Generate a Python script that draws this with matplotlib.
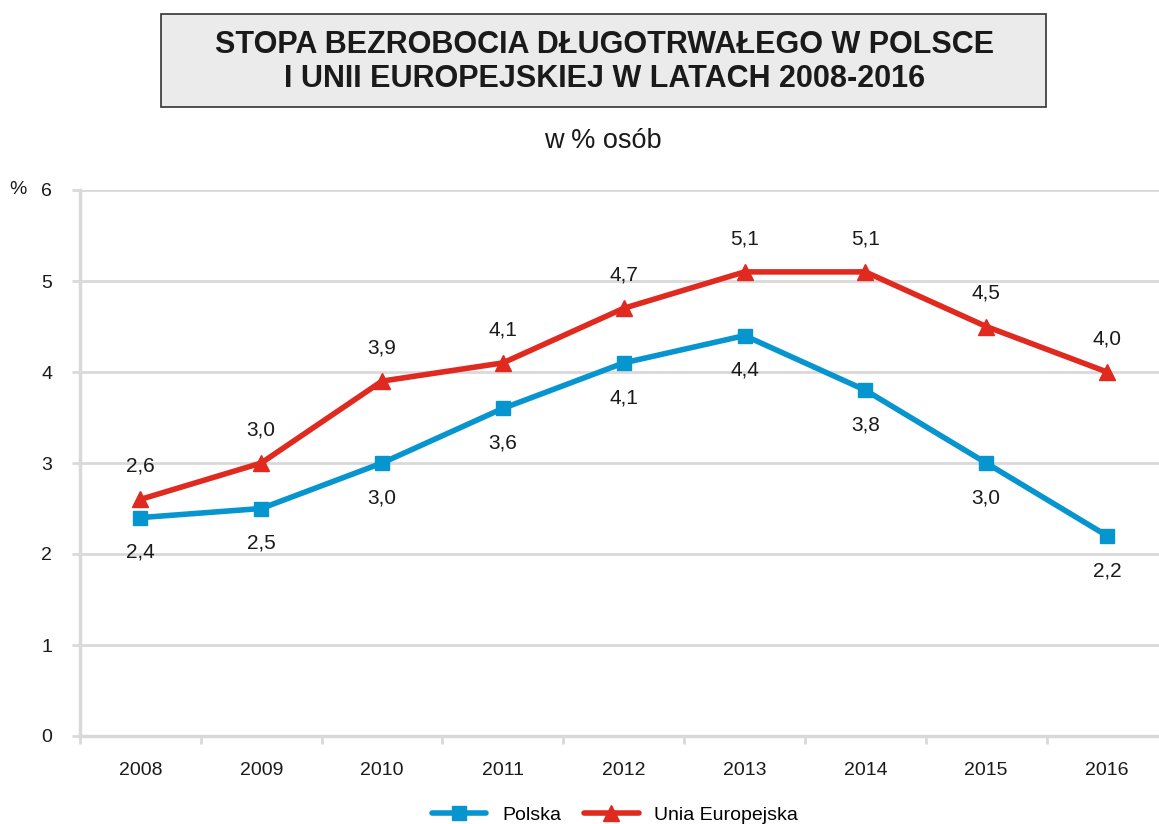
#!/usr/bin/env python

import matplotlib
matplotlib.use('Agg')
from matplotlib import pyplot as plt
from matplotlib.patches import Rectangle

years = ['2008', '2009', '2010', '2011', '2012', '2013', '2014', '2015', '2016']
polska = [2.4, 2.5, 3.0, 3.6, 4.1, 4.4, 3.8, 3.0, 2.2]
unia = [2.6, 3.0, 3.9, 4.1, 4.7, 5.1, 5.1, 4.5, 4.0]
y_ticks = [0, 1, 2, 3, 4, 5, 6]

BLUE = '#0795cf'
RED = '#e0291f'
GRID = '#d9d9d9'
TXT = '#1a1a1a'


def fmt(v):
    return ('%.1f' % v).replace('.', ',')


def main():
    plt.rcParams['font.family'] = ['Liberation Sans', 'DejaVu Sans']
    fig = plt.figure(figsize=(11.59, 8.24), dpi=100)
    ax = fig.add_axes([80 / 1159, 1 - 736 / 824, 1 - 80 / 1159, (736 - 190) / 824])

    x = list(range(len(years)))
    ax.plot(x, polska, '-s', color=BLUE, lw=4, ms=10.5, label='Polska',
            solid_capstyle='round', zorder=3)
    ax.plot(x, unia, '-^', color=RED, lw=4, ms=11.5, label='Unia Europejska',
            solid_capstyle='round', zorder=3)

    for xi, v in zip(x, polska):
        ax.annotate(fmt(v), (xi, v), xytext=(0, -25), textcoords='offset points',
                    ha='center', va='center', fontsize=15, color=TXT)
    for xi, v in zip(x, unia):
        ax.annotate(fmt(v), (xi, v), xytext=(0, 24), textcoords='offset points',
                    ha='center', va='center', fontsize=15, color=TXT)

    ax.set_ylim(0, 6)
    ax.set_xlim(-0.5, 8.43)
    ax.set_yticks(y_ticks)
    ax.set_yticklabels([str(t) for t in y_ticks], fontsize=14, color=TXT)
    ax.set_xticks([i - 0.5 for i in range(len(years))])
    ax.set_xticklabels([])
    ax.set_xticks(x, minor=True)
    ax.set_xticklabels(years, minor=True, fontsize=14, color=TXT)
    ax.tick_params(axis='x', which='minor', length=0, pad=19)
    ax.tick_params(axis='x', which='major', length=6, width=2, color=GRID, direction='out')
    ax.tick_params(axis='y', length=6, width=2, color=GRID, pad=14)
    ax.grid(axis='y', color=GRID, lw=2)
    ax.set_axisbelow(True)
    for s in ['top', 'right']:
        ax.spines[s].set_visible(False)
    for s in ['left', 'bottom']:
        ax.spines[s].set_color(GRID)
        ax.spines[s].set_linewidth(2.5)

    fig.text(18 / 1159, 1 - 189 / 824, '%', fontsize=14, ha='center', va='center', color=TXT)

    # title box
    fig.patches.append(Rectangle((161 / 1159, 1 - 107 / 824), (1046 - 161) / 1159, 93 / 824,
                                 transform=fig.transFigure, facecolor='#ebebeb',
                                 edgecolor='#333333', lw=1.2))
    fig.text(605 / 1159, 1 - 62 / 824,
             'STOPA BEZROBOCIA DŁUGOTRWAŁEGO W POLSCE\nI UNII EUROPEJSKIEJ W LATACH 2008-2016',
             ha='center', va='center', fontsize=22, fontweight='bold', color=TXT,
             linespacing=1.2)
    fig.text(603 / 1159, 1 - 141 / 824, 'w % osób', ha='center', va='center',
             fontsize=19.5, color=TXT)

    fig.legend(loc='center', bbox_to_anchor=(615 / 1159, 1 - 815 / 824), ncol=2,
               frameon=False, fontsize=14, handlelength=2.8, columnspacing=1.2,
               handletextpad=0.8)

    plt.savefig('out.png', dpi=100)
    plt.close()


if __name__ == '__main__':
    main()
